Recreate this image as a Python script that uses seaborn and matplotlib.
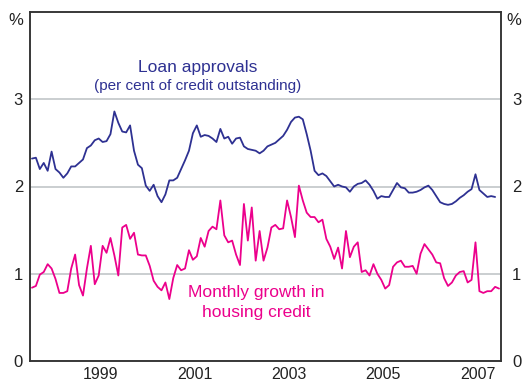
import pandas as pd
import matplotlib
matplotlib.use("Agg")
import matplotlib.pyplot as plt
import seaborn as sns

# Housing loan approvals, per cent of credit outstanding (monthly, from Jan 1998)
loan_approvals = [
    2.32, 2.33, 2.20, 2.27, 2.18, 2.40, 2.20, 2.16, 2.10, 2.15, 2.23, 2.23,
    2.27, 2.31, 2.44, 2.47, 2.53, 2.55, 2.51, 2.52, 2.60, 2.86, 2.73, 2.63,
    2.62, 2.70, 2.41, 2.25, 2.21, 2.01, 1.95, 2.02, 1.89, 1.82, 1.91, 2.07,
    2.07, 2.10, 2.20, 2.30, 2.41, 2.61, 2.70, 2.57, 2.59, 2.58, 2.55, 2.51,
    2.66, 2.55, 2.57, 2.49, 2.55, 2.56, 2.46, 2.43, 2.42, 2.41, 2.38, 2.41,
    2.46, 2.48, 2.50, 2.54, 2.58, 2.65, 2.74, 2.79, 2.80, 2.77, 2.60, 2.41,
    2.18, 2.13, 2.15, 2.12, 2.06, 2.00, 2.02, 2.00, 1.99, 1.94, 2.00, 2.03,
    2.04, 2.07, 2.02, 1.95, 1.86, 1.89, 1.88, 1.88, 1.96, 2.04, 1.99, 1.98,
    1.93, 1.93, 1.94, 1.96, 1.99, 2.01, 1.96, 1.89, 1.82, 1.80, 1.79, 1.80,
    1.83, 1.87, 1.90, 1.94, 1.97, 2.14, 1.96, 1.92, 1.88, 1.89, 1.88,
]

# Monthly growth in housing credit, per cent (monthly, from Jan 1998)
housing_credit_growth = [
    0.84, 0.86, 0.99, 1.02, 1.11, 1.06, 0.94, 0.78, 0.78, 0.80, 1.06, 1.22,
    0.87, 0.75, 1.06, 1.32, 0.88, 0.98, 1.32, 1.24, 1.41, 1.21, 0.98, 1.53,
    1.56, 1.40, 1.47, 1.22, 1.21, 1.21, 1.09, 0.92, 0.85, 0.81, 0.90, 0.71,
    0.95, 1.10, 1.04, 1.06, 1.27, 1.16, 1.20, 1.41, 1.31, 1.49, 1.54, 1.51,
    1.84, 1.44, 1.36, 1.38, 1.22, 1.10, 1.80, 1.38, 1.76, 1.15, 1.49, 1.15,
    1.30, 1.53, 1.56, 1.51, 1.52, 1.84, 1.65, 1.42, 2.01, 1.84, 1.70, 1.65,
    1.65, 1.59, 1.62, 1.40, 1.31, 1.17, 1.30, 1.06, 1.49, 1.19, 1.31, 1.36,
    1.02, 1.04, 0.98, 1.11, 1.00, 0.93, 0.83, 0.87, 1.08, 1.13, 1.15, 1.08,
    1.08, 1.09, 1.00, 1.23, 1.34, 1.28, 1.22, 1.13, 1.12, 0.95, 0.86, 0.90,
    0.98, 1.02, 1.03, 0.90, 0.93, 1.36, 0.80, 0.78, 0.80, 0.80, 0.85, 0.83,
]

year_ticks = list(range(1999, 2008))
year_labels = ["1999", "2001", "2003", "2005", "2007"]
y_ticks = [0, 1, 2, 3]

BLUE = "#2e3192"
PINK = "#ec008c"


def decimal_year(idx):
    # place each monthly observation in the middle of its month
    return idx.year + (idx.month - 0.5) / 12.0


months = pd.date_range("1998-01-01", periods=len(housing_credit_growth), freq="MS")
approvals_df = pd.DataFrame({"year": decimal_year(months[:len(loan_approvals)]),
                             "value": loan_approvals})
credit_df = pd.DataFrame({"year": decimal_year(months), "value": housing_credit_growth})

sns.set_style("white")
plt.rcParams["font.family"] = ["Liberation Sans", "DejaVu Sans"]

fig = plt.figure(figsize=(5.27, 3.83), dpi=100)
ax = fig.add_axes([30 / 527, 22 / 383, 471 / 527, 349 / 383])

ax.set_yticks(y_ticks)
ax.yaxis.grid(True, color="#c6cacd", lw=1.3)
ax.set_axisbelow(True)

sns.lineplot(data=approvals_df, x="year", y="value", color=BLUE, lw=1.3, ax=ax)
sns.lineplot(data=credit_df, x="year", y="value", color=PINK, lw=1.3, ax=ax)

ax.set_xlim(1998, 2008)
ax.set_ylim(0, 4)
ax.set_xlabel("")
ax.set_ylabel("")

# year boundaries as inward ticks, labels centred within odd years
ax.set_xticks(year_ticks)
ax.set_xticklabels([])
ax.set_xticks([int(y) + 0.5 for y in year_labels], minor=True)
ax.set_xticklabels(year_labels, minor=True, fontsize=11.5, color="#222222")
ax.tick_params(axis="x", which="major", direction="in", length=5, width=1, color="#333333")
ax.tick_params(axis="x", which="minor", length=0, pad=4.5)

ax.set_yticklabels([str(t) for t in y_ticks], fontsize=12, color="#222222")
ax.tick_params(axis="y", length=0, pad=5)

ax2 = ax.twinx()
ax2.set_ylim(0, 4)
ax2.set_yticks(y_ticks)
ax2.set_yticklabels([str(t) for t in y_ticks], fontsize=12, color="#222222")
ax2.tick_params(axis="y", length=0, pad=8)

for a in (ax, ax2):
    for s in a.spines.values():
        s.set_color("#333333")
        s.set_linewidth(1.1)

ax.annotate("%", xy=(0, 3.9), xycoords=("axes fraction", "data"), xytext=(-5, 0),
            textcoords="offset points", ha="right", va="center", fontsize=12, color="#222222")
ax.annotate("%", xy=(1, 3.9), xycoords=("axes fraction", "data"), xytext=(4, 0),
            textcoords="offset points", ha="left", va="center", fontsize=12, color="#222222")

ax.text(2001.55, 3.36, "Loan approvals", ha="center", va="center", fontsize=12.5, color=BLUE)
ax.text(2001.55, 3.15, "(per cent of credit outstanding)", ha="center", va="center",
        fontsize=11, color=BLUE)
ax.text(2002.8, 0.78, "Monthly growth in", ha="center", va="center", fontsize=12.5, color=PINK)
ax.text(2002.8, 0.56, "housing credit", ha="center", va="center", fontsize=12.5, color=PINK)

fig.savefig("out.png", dpi=100)
